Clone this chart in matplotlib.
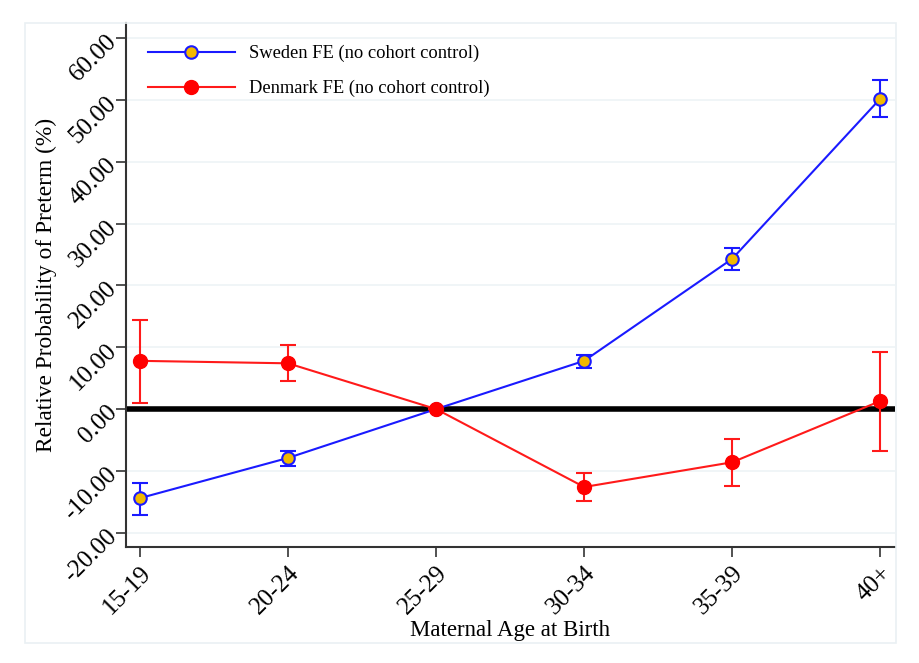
import numpy as np
import matplotlib
matplotlib.use('Agg')
import matplotlib.pyplot as plt
from matplotlib.patches import Rectangle
from matplotlib.lines import Line2D

plt.rcParams['font.family'] = ['Liberation Serif', 'DejaVu Serif']

# Data
age_groups = ['15-19', '20-24', '25-29', '30-34', '35-39', '40+']
sweden = [-14.4, -7.9, 0.0, 7.8, 24.3, 50.2]
sweden_hi = [-12.0, -6.8, 0.0, 8.7, 26.1, 53.2]
sweden_lo = [-17.2, -9.2, 0.0, 6.6, 22.5, 47.2]
denmark = [7.8, 7.4, 0.0, -12.6, -8.6, 1.3]
denmark_hi = [14.4, 10.4, 0.0, -10.4, -4.9, 9.2]
denmark_lo = [1.0, 4.5, 0.0, -14.9, -12.5, -6.8]
y_ticks = [-20, -10, 0, 10, 20, 30, 40, 50, 60]

x = np.arange(len(age_groups))
sweden = np.array(sweden)
denmark = np.array(denmark)

blue = '#1a1aff'
red = '#ff1a1a'
gold = '#f2b900'

fig = plt.figure(figsize=(9.19, 6.63), dpi=100)
ax = fig.add_axes([0.137, 0.175, 0.837, 0.79])

# outer plot-region frame (Stata style)
fig.patches.append(Rectangle((25 / 919, 1 - 643 / 663), 871 / 919, 620 / 663,
                             transform=fig.transFigure, fill=False,
                             edgecolor='#eaf0f3', linewidth=1.2))

for t in y_ticks:
    ax.axhline(t, color='#eef3f6', linewidth=1.2, zorder=0)
ax.axhline(0, color='black', linewidth=4, zorder=2)

ax.errorbar(x, sweden,
            yerr=[sweden - np.array(sweden_lo), np.array(sweden_hi) - sweden],
            color=blue, ecolor=blue, linewidth=1.5, elinewidth=1.5,
            capsize=6, capthick=1.5, marker='o', markersize=9,
            markerfacecolor=gold, markeredgecolor=blue,
            markeredgewidth=1.5, zorder=3)
ax.errorbar(x, denmark,
            yerr=[denmark - np.array(denmark_lo), np.array(denmark_hi) - denmark],
            color=red, ecolor=red, linewidth=1.5, elinewidth=1.5,
            capsize=6, capthick=1.5, marker='o', markersize=10,
            markerfacecolor='#ff0000', markeredgecolor='#ff0000', zorder=3)

ax.set_xlim(-0.095, 5.1)
ax.set_ylim(-22.3, 62.4)
ax.set_xticks(x)
ax.set_xticklabels(age_groups, rotation=45, ha='right', rotation_mode='anchor', fontsize=18)
ax.set_yticks(y_ticks)
ax.set_yticklabels(['%.2f' % t for t in y_ticks], rotation=45, ha='right',
                   va='center', rotation_mode='anchor', fontsize=18)
ax.tick_params(axis='both', length=7, width=1.2, color='#333333')
ax.tick_params(axis='y', pad=2)
ax.tick_params(axis='x', pad=4)

for s in ['top', 'right']:
    ax.spines[s].set_visible(False)
for s in ['left', 'bottom']:
    ax.spines[s].set_linewidth(1.5)
    ax.spines[s].set_color('#333333')

ax.set_xlabel('Maternal Age at Birth', fontsize=16.5, labelpad=1)
ax.set_ylabel('Relative Probability of Preterm (%)', fontsize=16.8, labelpad=2)

handles = [
    Line2D([], [], color=blue, linewidth=1.5, marker='o', markersize=9,
           markerfacecolor=gold, markeredgecolor=blue, markeredgewidth=1.5),
    Line2D([], [], color=red, linewidth=1.5, marker='o', markersize=10,
           markerfacecolor='#ff0000', markeredgecolor='#ff0000'),
]
ax.legend(handles, ['Sweden FE (no cohort control)', 'Denmark FE (no cohort control)'],
          loc='upper left', frameon=False, fontsize=13.3, handlelength=4.7,
          handletextpad=0.8, labelspacing=0.95,
          bbox_to_anchor=(0.0, 1.0), borderaxespad=0.78, borderpad=0.4)

fig.savefig('out.png', dpi=100)
